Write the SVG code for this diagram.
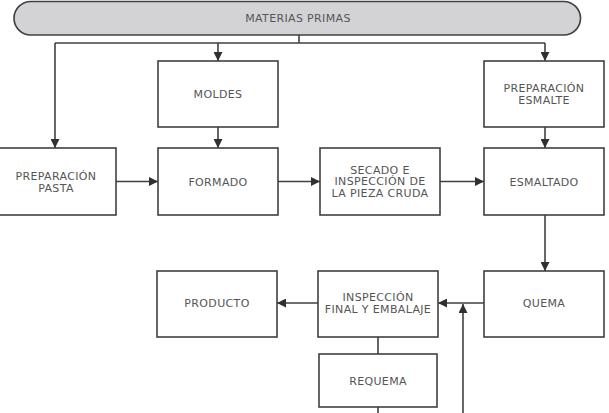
<svg xmlns="http://www.w3.org/2000/svg" width="609" height="413" viewBox="0 0 609 413">
<style>
.box{fill:#ffffff;stroke:#404040;stroke-width:1.6}
.pill{fill:#d3d3d5;stroke:#404040;stroke-width:1.6}
.t{font-family:"DejaVu Sans",Verdana,sans-serif;font-size:11px;letter-spacing:0.35px;fill:#555555;text-anchor:middle}
.c{fill:none;stroke:#404040;stroke-width:1.6}
</style>
<defs>
<marker id="ah" viewBox="0 0 10 10" refX="10" refY="5" markerWidth="10" markerHeight="9" markerUnits="userSpaceOnUse" orient="auto">
<path d="M0,0 L10,5 L0,10 z" fill="#303030"/>
</marker>
</defs>
<rect width="609" height="413" fill="#ffffff"/>
<g id="connectors">
<path class="c" d="M299,35 V43"/>
<path class="c" d="M55,43 H545"/>
<path class="c" d="M55,43 V148" marker-end="url(#ah)"/>
<path class="c" d="M218,43 V61" marker-end="url(#ah)"/>
<path class="c" d="M545,43 V61" marker-end="url(#ah)"/>
<path class="c" d="M218,127 V148" marker-end="url(#ah)"/>
<path class="c" d="M545,127 V148" marker-end="url(#ah)"/>
<path class="c" d="M116,181.5 H158" marker-end="url(#ah)"/>
<path class="c" d="M278,181.5 H320" marker-end="url(#ah)"/>
<path class="c" d="M440,181.5 H484" marker-end="url(#ah)"/>
<path class="c" d="M545,215 V271" marker-end="url(#ah)"/>
<path class="c" d="M484,303 H438" marker-end="url(#ah)"/>
<path class="c" d="M318,303 H277" marker-end="url(#ah)"/>
<path class="c" d="M463,413 V304" marker-end="url(#ah)"/>
<path class="c" d="M378,337 V354"/>
<path class="c" d="M378,407 V413"/>
</g>
<g id="materias-primas">
<rect class="pill" x="14" y="1.5" width="566.5" height="33.5" rx="16.75" ry="16.75"/>
<text class="t" x="298" y="22">MATERIAS PRIMAS</text>
</g>
<g id="moldes">
<rect class="box" x="158" y="61" width="120" height="66"/>
<text class="t" x="218" y="98">MOLDES</text>
</g>
<g id="preparacion-esmalte">
<rect class="box" x="484" y="61" width="120" height="66"/>
<text class="t" x="544" y="92">PREPARACIÓN</text>
<text class="t" x="544" y="104">ESMALTE</text>
</g>
<g id="preparacion-pasta">
<rect class="box" x="-4" y="148" width="120" height="67"/>
<text class="t" x="56" y="179.5">PREPARACIÓN</text>
<text class="t" x="56" y="191.5">PASTA</text>
</g>
<g id="formado">
<rect class="box" x="158" y="148" width="120" height="67"/>
<text class="t" x="218" y="185.5">FORMADO</text>
</g>
<g id="secado">
<rect class="box" x="320" y="148" width="120" height="67"/>
<text class="t" x="380" y="173.5">SECADO E</text>
<text class="t" x="380" y="185.2">INSPECCIÓN DE</text>
<text class="t" x="380" y="196.9">LA PIEZA CRUDA</text>
</g>
<g id="esmaltado">
<rect class="box" x="484" y="148" width="120" height="67"/>
<text class="t" x="544" y="185.5">ESMALTADO</text>
</g>
<g id="producto">
<rect class="box" x="157" y="271" width="120" height="66"/>
<text class="t" x="217" y="307">PRODUCTO</text>
</g>
<g id="inspeccion-final">
<rect class="box" x="318" y="271" width="120" height="66"/>
<text class="t" x="378" y="301">INSPECCIÓN</text>
<text class="t" x="378" y="313">FINAL Y EMBALAJE</text>
</g>
<g id="quema">
<rect class="box" x="484" y="271" width="120" height="66"/>
<text class="t" x="544" y="307">QUEMA</text>
</g>
<g id="requema">
<rect class="box" x="319" y="354" width="118" height="53"/>
<text class="t" x="378" y="384.5">REQUEMA</text>
</g>
</svg>
